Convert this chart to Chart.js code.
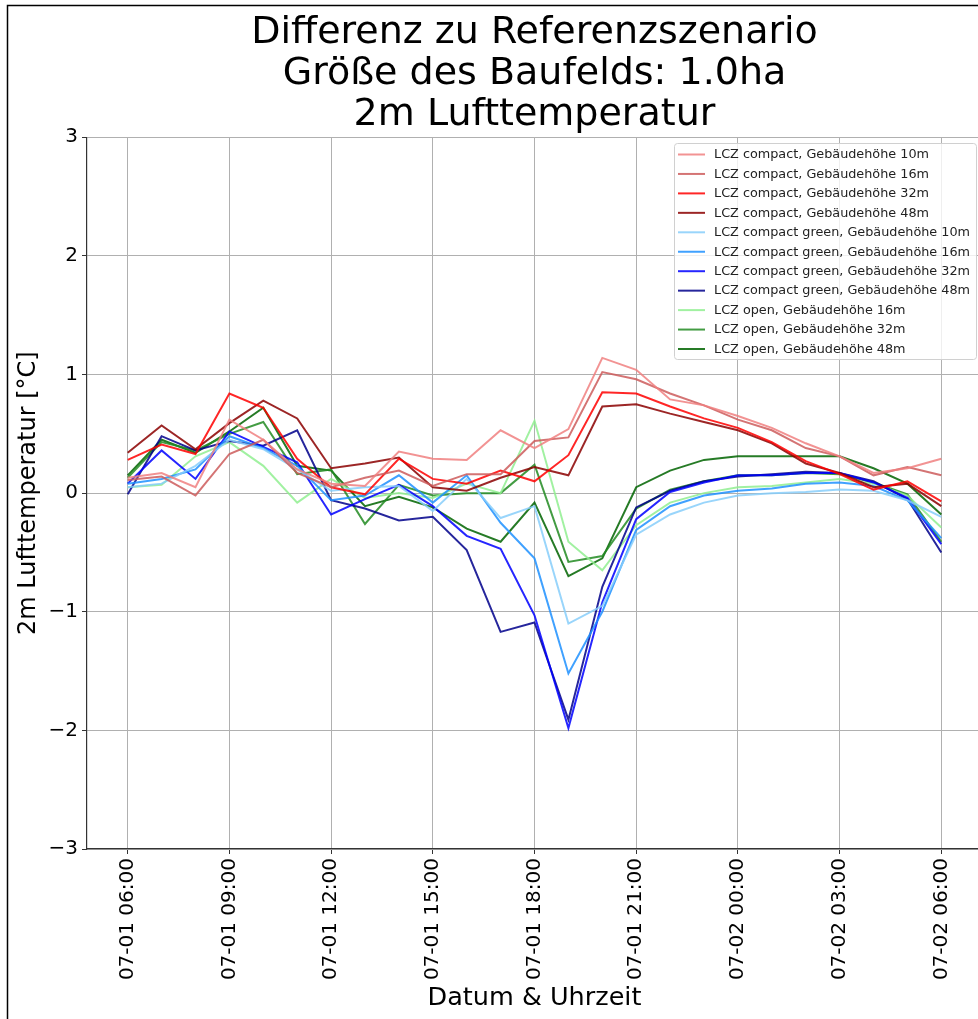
<!DOCTYPE html>
<html>
<head>
<meta charset="utf-8">
<script src="https://cdn.jsdelivr.net/npm/chart.js@4.4.1/dist/chart.umd.min.js"></script>
<style>
html,body{margin:0;padding:0;background:#fff;overflow:hidden;width:978px;height:1019px;}
#wrap{position:absolute;left:0;top:0;width:990px;height:1019px;}
</style>
</head>
<body>
<div id="wrap"><canvas id="c" width="990" height="1019"></canvas></div>
<script>
// Hourly time steps (x = hours since 07-01 06:00)
const times = ["07-01 06:00","07-01 07:00","07-01 08:00","07-01 09:00","07-01 10:00","07-01 11:00","07-01 12:00","07-01 13:00","07-01 14:00","07-01 15:00","07-01 16:00","07-01 17:00","07-01 18:00","07-01 19:00","07-01 20:00","07-01 21:00","07-01 22:00","07-01 23:00","07-02 00:00","07-02 01:00","07-02 02:00","07-02 03:00","07-02 04:00","07-02 05:00","07-02 06:00"];
const xTickLabels = ["07-01 06:00","07-01 09:00","07-01 12:00","07-01 15:00","07-01 18:00","07-01 21:00","07-02 00:00","07-02 03:00","07-02 06:00"];
const yTickLabels = ["\u22123","\u22122","\u22121","0","1","2","3"];

const seriesNames = [
  "LCZ compact, Gebäudehöhe 10m",
  "LCZ compact, Gebäudehöhe 16m",
  "LCZ compact, Gebäudehöhe 32m",
  "LCZ compact, Gebäudehöhe 48m",
  "LCZ compact green, Gebäudehöhe 10m",
  "LCZ compact green, Gebäudehöhe 16m",
  "LCZ compact green, Gebäudehöhe 32m",
  "LCZ compact green, Gebäudehöhe 48m",
  "LCZ open, Gebäudehöhe 16m",
  "LCZ open, Gebäudehöhe 32m",
  "LCZ open, Gebäudehöhe 48m"
];
const seriesColors = ["#F08080","#CD5C5C","#FF0000","#8B0000","#87CEFA","#1E90FF","#0000FF","#00008B","#90EE90","#228B22","#006400"];

const compact10 = [0.13,0.17,0.05,0.62,0.45,0.20,0.08,0.06,0.35,0.29,0.28,0.53,0.38,0.54,1.14,1.04,0.79,0.74,0.65,0.55,0.42,0.31,0.17,0.21,0.29];
const compact16 = [0.11,0.14,-0.02,0.33,0.45,0.17,0.05,0.13,0.19,0.06,0.16,0.16,0.44,0.47,1.02,0.96,0.84,0.74,0.62,0.53,0.38,0.31,0.15,0.22,0.15];
const compact32 = [0.28,0.41,0.33,0.84,0.72,0.29,0.05,-0.01,0.29,0.12,0.08,0.19,0.10,0.32,0.85,0.84,0.73,0.63,0.55,0.43,0.27,0.16,0.03,0.10,-0.07];
const compact48 = [0.34,0.57,0.37,0.59,0.78,0.63,0.21,0.25,0.30,0.05,0.02,0.13,0.22,0.15,0.73,0.75,0.67,0.60,0.53,0.42,0.25,0.17,0.05,0.08,-0.11];
const green10   = [0.05,0.08,0.23,0.45,0.37,0.20,0.02,0.05,0.06,-0.15,0.12,-0.21,-0.11,-1.10,-0.95,-0.35,-0.18,-0.08,-0.02,0.00,0.01,0.03,0.02,-0.06,-0.20];
const green16   = [0.08,0.12,0.20,0.48,0.38,0.23,-0.06,-0.02,0.15,-0.08,0.15,-0.25,-0.55,-1.52,-1.00,-0.31,-0.11,-0.02,0.02,0.04,0.08,0.09,0.06,-0.06,-0.38];
const green32   = [0.08,0.36,0.12,0.52,0.39,0.26,-0.18,-0.05,0.07,-0.11,-0.36,-0.47,-1.03,-1.98,-0.92,-0.22,0.01,0.09,0.15,0.15,0.17,0.17,0.09,-0.04,-0.43];
const green48   = [-0.01,0.48,0.36,0.44,0.40,0.53,-0.06,-0.13,-0.23,-0.20,-0.48,-1.17,-1.09,-1.91,-0.79,-0.12,0.02,0.10,0.14,0.16,0.18,0.17,0.10,-0.05,-0.50];
const open16    = [0.05,0.07,0.31,0.43,0.23,-0.08,0.12,-0.04,0.00,-0.04,0.08,0.00,0.61,-0.41,-0.65,-0.27,-0.08,0.00,0.05,0.06,0.09,0.12,0.08,-0.02,-0.29];
const open32    = [0.13,0.43,0.36,0.50,0.60,0.16,0.20,-0.26,0.07,-0.02,0.00,0.00,0.24,-0.58,-0.53,-0.13,0.03,0.10,0.15,0.15,0.17,0.16,0.09,-0.01,-0.41];
const open48    = [0.15,0.45,0.34,0.52,0.72,0.23,0.19,-0.11,-0.03,-0.12,-0.30,-0.41,-0.08,-0.70,-0.55,0.05,0.19,0.28,0.31,0.31,0.31,0.31,0.21,0.08,-0.18];

const allSeries = [compact10,compact16,compact32,compact48,green10,green16,green32,green48,open16,open32,open48];

function withAlpha(hex, a){
  const r=parseInt(hex.slice(1,3),16),g=parseInt(hex.slice(3,5),16),b=parseInt(hex.slice(5,7),16);
  return `rgba(${r},${g},${b},${a})`;
}

const datasets = allSeries.map((vals, k) => ({
  label: seriesNames[k],
  data: vals.map((v, i) => ({x: i, y: v})),
  borderColor: withAlpha(seriesColors[k], 0.85),
  backgroundColor: withAlpha(seriesColors[k], 0.85),
  borderWidth: 2,
  pointRadius: 0,
  tension: 0,
  fill: false
}));

const FONT = "'DejaVu Sans', sans-serif";

const framePlugin = {
  id: 'frame',
  afterDraw(chart){
    const ctx = chart.ctx;
    ctx.save();
    ctx.strokeStyle = '#000';
    ctx.lineWidth = 1.5;
    ctx.beginPath();
    ctx.moveTo(7.5, 1100); ctx.lineTo(7.5, 5.5); ctx.lineTo(1100, 5.5);
    ctx.stroke();
    ctx.restore();
  }
};

const legendPlugin = {
  id: 'customLegend',
  afterDraw(chart){
    const ctx = chart.ctx;
    const x0 = 674, y0 = 143, w = 302, h = 216;
    ctx.save();
    ctx.fillStyle = 'rgba(255,255,255,0.8)';
    ctx.strokeStyle = '#d0d0d0';
    ctx.lineWidth = 1;
    ctx.beginPath();
    if (ctx.roundRect) ctx.roundRect(x0+0.5, y0+0.5, w, h, 3); else ctx.rect(x0+0.5, y0+0.5, w, h);
    ctx.fill(); ctx.stroke();
    ctx.font = "12.8px " + FONT;
    ctx.textBaseline = 'middle';
    chart.data.datasets.forEach((ds, i) => {
      const y = 154.5 + i * 19.45;
      ctx.strokeStyle = ds.borderColor;
      ctx.lineWidth = 2;
      ctx.beginPath(); ctx.moveTo(678, y); ctx.lineTo(705, y); ctx.stroke();
      ctx.fillStyle = '#222';
      ctx.fillText(ds.label, 714, y + 0.5);
    });
    ctx.restore();
  }
};

new Chart(document.getElementById('c'), {
  type: 'line',
  data: { datasets },
  plugins: [framePlugin, legendPlugin],
  options: {
    responsive: false,
    animation: false,
    devicePixelRatio: 1,
    layout: { padding: { left: 8, right: 8, top: 0, bottom: 5 } },
    plugins: {
      legend: { display: false },
      tooltip: { enabled: false },
      title: {
        display: true,
        fullSize: false,
        text: ["Differenz zu Referenzszenario", "Größe des Baufelds: 1.0ha", "2m Lufttemperatur"],
        font: { family: FONT, size: 38, weight: 'normal', lineHeight: 1.09 },
        color: '#000',
        padding: { top: 12, bottom: 1 }
      }
    },
    scales: {
      x: {
        type: 'linear',
        min: -1.2,
        max: 25.2,
        afterBuildTicks(scale){ scale.ticks = xTickLabels.map((_, i) => ({ value: i * 3 })); },
        afterFit(scale){ scale.height = 165; },
        ticks: {
          callback: (v) => xTickLabels[Math.round(v / 3)],
          minRotation: 90, maxRotation: 90,
          font: { family: FONT, size: 20 },
          color: '#000',
          padding: 4,
          autoSkip: false
        },
        grid: { color: '#b0b0b0', lineWidth: 1, tickLength: 5, tickColor: '#333', drawTicks: true },
        border: { color: '#333', width: 1.2 },
        title: {
          display: true,
          text: 'Datum & Uhrzeit',
          font: { family: FONT, size: 25.5 },
          color: '#000',
          padding: { top: 0, bottom: 0 }
        }
      },
      y: {
        min: -3,
        max: 3,
        afterBuildTicks(scale){ scale.ticks = yTickLabels.map((_, i) => ({ value: i - 3 })); },
        afterFit(scale){ scale.width = 79; },
        ticks: {
          callback: (v) => yTickLabels[Math.round(v) + 3],
          font: { family: FONT, size: 20 },
          color: '#000',
          padding: 4
        },
        grid: { color: '#b0b0b0', lineWidth: 1, tickLength: 5, tickColor: '#333' },
        border: { color: '#333', width: 1.2 },
        title: {
          display: true,
          text: '2m Lufttemperatur [°C]',
          font: { family: FONT, size: 24 },
          color: '#000',
          padding: { top: 6, bottom: 0 }
        }
      }
    }
  }
});
</script>
</body>
</html>
